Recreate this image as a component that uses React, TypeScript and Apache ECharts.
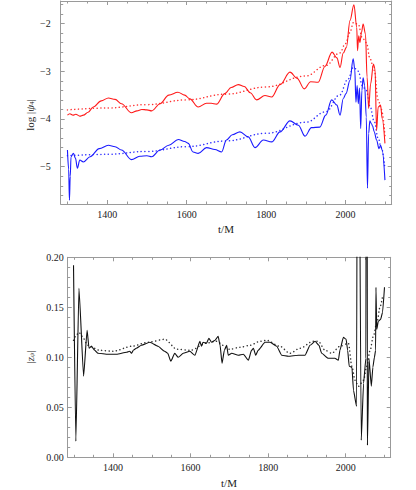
import React, { useEffect, useRef } from "react";
import * as echarts from "echarts";

// ---- data (t/M, value) ----
const redSolid: [number, number][] = [
  [1300, -3.92], [1306, -3.89], [1314, -3.92], [1321, -3.9], [1331, -3.94], [1340, -3.92], [1352, -3.86],
  [1365, -3.75], [1385, -3.62], [1403, -3.56], [1420, -3.59], [1436, -3.68], [1461, -3.87], [1475, -3.83],
  [1487, -3.8], [1500, -3.81], [1512, -3.83], [1533, -3.68], [1555, -3.5], [1578, -3.44], [1595, -3.5],
  [1608, -3.58], [1629, -3.75], [1650, -3.67], [1662, -3.67], [1675, -3.69], [1696, -3.47], [1712, -3.34],
  [1730, -3.28], [1745, -3.32], [1760, -3.45], [1776, -3.6], [1797, -3.51], [1814, -3.54], [1835, -3.28],
  [1860, -3.02], [1878, -3.15], [1896, -3.37], [1912, -3.22], [1931, -3.23], [1948, -2.9], [1966, -2.6],
  [1978, -2.72], [1986, -2.92], [1994, -2.62], [2002, -2.5], [2011, -1.94], [2021, -1.61], [2028, -2.08],
  [2030, -2.57], [2033, -2.26], [2036, -2.4], [2040, -2.19], [2044, -2.01], [2050, -2.22], [2054, -3.12],
  [2058, -3.78], [2063, -3.26], [2070, -2.85], [2074, -2.95], [2078, -4.24], [2082, -3.75], [2088, -3.71],
  [2092, -3.99], [2099, -4.51],
];

const redFit: [number, number][] = [
  [1300, -3.81], [1400, -3.77], [1500, -3.7], [1600, -3.6], [1700, -3.48], [1800, -3.33], [1900, -3.1],
  [1950, -2.88], [1985, -2.62], [2000, -2.42], [2010, -2.2], [2020, -1.98], [2032, -2.02], [2042, -2.3],
  [2052, -2.4], [2062, -2.75], [2072, -2.98], [2082, -3.6], [2090, -3.8], [2099, -4.35],
];

const blueSolid: [number, number][] = [
  [1300, -4.65], [1303, -5.05], [1305, -5.7], [1307, -5.2], [1309, -4.79], [1315, -4.72], [1320, -4.82],
  [1325, -5.03], [1331, -4.86], [1340, -4.9], [1357, -4.79], [1380, -4.62], [1403, -4.55], [1420, -4.58],
  [1436, -4.65], [1461, -4.85], [1482, -4.78], [1500, -4.77], [1512, -4.79], [1533, -4.65], [1555, -4.55],
  [1579, -4.43], [1595, -4.47], [1604, -4.51], [1616, -4.69], [1629, -4.72], [1650, -4.6], [1671, -4.64],
  [1688, -4.69], [1700, -4.44], [1715, -4.33], [1734, -4.27], [1755, -4.375], [1772, -4.6], [1793, -4.44],
  [1814, -4.48], [1835, -4.27], [1860, -4.04], [1881, -4.13], [1898, -4.36], [1914, -4.18], [1935, -4.17],
  [1950, -3.92], [1965, -3.6], [1978, -3.71], [1986, -3.92], [1994, -3.575], [2001, -3.47], [2011, -3.19],
  [2019, -2.74], [2023, -2.95], [2026, -3.65], [2029, -3.3], [2032, -3.68], [2035, -3.35], [2038, -4.2],
  [2041, -3.4], [2044, -3.14], [2048, -3.3], [2052, -3.96], [2055, -5.45], [2058, -4.3], [2061, -4.04],
  [2065, -4.1], [2068, -4.15], [2072, -4.27], [2078, -4.44], [2084, -4.62], [2088, -4.55], [2092, -4.65],
  [2099, -5.28],
];

const blueFit: [number, number][] = [
  [1300, -4.77], [1400, -4.74], [1500, -4.68], [1600, -4.58], [1700, -4.46], [1800, -4.3], [1900, -4.07],
  [1950, -3.85], [1985, -3.5], [2005, -3.18], [2020, -2.92], [2032, -3.0], [2042, -3.3], [2052, -3.4],
  [2062, -3.75], [2072, -4.05], [2082, -4.4], [2090, -4.6], [2099, -5.05],
];

const zSolid: [number, number][] = [
  [1298, 0.192], [1304, 0.016], [1312, 0.169], [1324, 0.081], [1333, 0.127], [1338, 0.109], [1344, 0.111],
  [1353, 0.107], [1361, 0.104], [1387, 0.103], [1409, 0.103], [1435, 0.105], [1443, 0.106], [1448, 0.104],
  [1452, 0.107], [1460, 0.109], [1473, 0.112], [1495, 0.115], [1516, 0.111], [1533, 0.106], [1541, 0.104],
  [1549, 0.096], [1559, 0.104], [1568, 0.1], [1581, 0.104], [1598, 0.106], [1611, 0.102], [1624, 0.116],
  [1628, 0.111], [1632, 0.115], [1641, 0.114], [1647, 0.119], [1654, 0.115], [1663, 0.117], [1671, 0.121],
  [1676, 0.112], [1681, 0.094], [1687, 0.107], [1693, 0.112], [1697, 0.102], [1706, 0.104], [1723, 0.102],
  [1736, 0.103], [1749, 0.097], [1757, 0.107], [1762, 0.109], [1768, 0.102], [1774, 0.107], [1792, 0.115],
  [1805, 0.115], [1822, 0.111], [1835, 0.102], [1852, 0.101], [1878, 0.102], [1895, 0.102], [1908, 0.112],
  [1921, 0.116], [1931, 0.112], [1938, 0.104], [1955, 0.099], [1972, 0.099], [1981, 0.097], [1985, 0.107],
  [1994, 0.12], [2001, 0.118], [2005, 0.107], [2009, 0.091], [2016, 0.09], [2020, 0.067], [2028, 0.051],
  [2031, 0.6], [2040, 0.017], [2046, 0.074], [2052, 0.099], [2054, 0.8], [2056, 0.012], [2060, 0.099],
  [2066, 0.071], [2070, 0.09], [2074, 0.1], [2077, 0.107], [2078, 0.17], [2080, 0.128], [2084, 0.136],
  [2090, 0.138], [2095, 0.145], [2100, 0.17],
];

const zFit: [number, number][] = [
  [1298, 0.117], [1305, 0.122], [1312, 0.125], [1320, 0.121], [1335, 0.112], [1365, 0.107], [1400, 0.106],
  [1448, 0.111], [1490, 0.115], [1533, 0.118], [1565, 0.108], [1600, 0.107], [1640, 0.114], [1665, 0.116],
  [1701, 0.108], [1727, 0.11], [1753, 0.112], [1779, 0.116], [1796, 0.117], [1830, 0.111], [1856, 0.104],
  [1882, 0.109], [1916, 0.116], [1929, 0.116], [1947, 0.107], [1964, 0.104], [1985, 0.111], [2007, 0.114],
  [2016, 0.091], [2024, 0.077], [2033, 0.071], [2046, 0.077], [2054, 0.091], [2063, 0.107], [2071, 0.121],
  [2080, 0.134], [2089, 0.151], [2095, 0.161],
];

// ---- ticks ----
const xMajor = [1400, 1600, 1800, 2000];
const xMinor = [1300, 1350, 1450, 1500, 1550, 1650, 1700, 1750, 1850, 1900, 1950, 2050, 2100];
const topYMajor = [-5, -4, -3, -2];
const topYMinor = [-5.6, -5.4, -5.2, -4.8, -4.6, -4.4, -4.2, -3.8, -3.6, -3.4, -3.2, -2.8, -2.6, -2.4, -2.2, -1.8, -1.6];
const botYMajor = [0, 0.05, 0.1, 0.15, 0.2];
const botYMinor = [0.01, 0.02, 0.03, 0.04, 0.06, 0.07, 0.08, 0.09, 0.11, 0.12, 0.13, 0.14, 0.16, 0.17, 0.18, 0.19];

const FONT = "Liberation Serif";
const FRAME = "#9a9a9a";
const TXT = "#222";

function xAx(grid: number, pos: string, ticks: number[], len: number, line: boolean, labels: number[] | null, min: number, max: number) {
  return {
    type: "value",
    gridIndex: grid,
    position: pos,
    min,
    max,
    axisLine: { show: line, onZero: false, lineStyle: { color: FRAME, width: 1 } },
    axisTick: { show: true, inside: true, length: len, customValues: ticks, lineStyle: { color: FRAME, width: 1 } },
    axisLabel: labels
      ? { show: true, customValues: labels, margin: 5, color: TXT, fontFamily: FONT, fontSize: 10, formatter: (v: number) => String(v) }
      : { show: false },
    splitLine: { show: false },
  };
}

function yAx(grid: number, pos: string, ticks: number[], len: number, line: boolean, labels: number[] | null, min: number, max: number, fmt: (v: number) => string, margin: number) {
  return {
    type: "value",
    gridIndex: grid,
    position: pos,
    min,
    max,
    axisLine: { show: line, onZero: false, lineStyle: { color: FRAME, width: 1 } },
    axisTick: { show: true, inside: true, length: len, customValues: ticks, lineStyle: { color: FRAME, width: 1 } },
    axisLabel: labels
      ? { show: true, customValues: labels, margin, color: TXT, fontFamily: FONT, fontSize: 10, formatter: fmt }
      : { show: false },
    splitLine: { show: false },
  };
}

const minusFmt = (v: number) => (v < 0 ? "\u2212" + Math.abs(v) : String(v));
const decFmt = (v: number) => v.toFixed(2);

export default function App() {
  const ref = useRef<HTMLDivElement>(null);
  useEffect(() => {
    if (!ref.current) return;
    const chart = echarts.init(ref.current, null, { renderer: "svg" });
    const XMIN = 1283;
    const XMAX = 2116;
    const TYMIN = -5.78;
    const TYMAX = -1.53;
    const line = (name: string, data: [number, number][], color: string, dotted: boolean, xi: number, yi: number, smooth: number, width: number) => ({
      name,
      type: "line",
      xAxisIndex: xi,
      yAxisIndex: yi,
      data,
      showSymbol: false,
      smooth,
      smoothMonotone: "x",
      clip: true,
      silent: true,
      lineStyle: dotted ? { color, width: 1.5, type: [0.1, 3.6], cap: "round" } : { color, width },
    });
    chart.setOption({
      animation: false,
      backgroundColor: "#fff",
      grid: [
        { left: 60.7, top: 1, width: 331, height: 203 },
        { left: 67.7, top: 257.3, width: 323, height: 200 },
      ],
      xAxis: [
        xAx(0, "bottom", xMajor, 4, true, xMajor, XMIN, XMAX),
        xAx(0, "bottom", xMinor, 2.5, false, null, XMIN, XMAX),
        xAx(0, "top", xMajor, 4, true, null, XMIN, XMAX),
        xAx(0, "top", xMinor, 2.5, false, null, XMIN, XMAX),
        xAx(1, "bottom", xMajor, 4, true, xMajor, XMIN, XMAX),
        xAx(1, "bottom", xMinor, 2.5, false, null, XMIN, XMAX),
        xAx(1, "top", xMajor, 4, true, null, XMIN, XMAX),
        xAx(1, "top", xMinor, 2.5, false, null, XMIN, XMAX),
      ],
      yAxis: [
        yAx(0, "left", topYMajor, 4, true, topYMajor, TYMIN, TYMAX, minusFmt, 10),
        yAx(0, "left", topYMinor, 2.5, false, null, TYMIN, TYMAX, minusFmt, 10),
        yAx(0, "right", topYMajor, 4, true, null, TYMIN, TYMAX, minusFmt, 10),
        yAx(0, "right", topYMinor, 2.5, false, null, TYMIN, TYMAX, minusFmt, 10),
        yAx(1, "left", botYMajor, 4, true, botYMajor, 0, 0.2, decFmt, 4),
        yAx(1, "left", botYMinor, 2.5, false, null, 0, 0.2, decFmt, 4),
        yAx(1, "right", botYMajor, 4, true, null, 0, 0.2, decFmt, 4),
        yAx(1, "right", botYMinor, 2.5, false, null, 0, 0.2, decFmt, 4),
      ],
      series: [
        line("red fit", redFit, "#ff3030", true, 0, 0, 0.4, 1),
        line("blue fit", blueFit, "#3030ff", true, 0, 0, 0.4, 1),
        line("red", redSolid, "#ff1a1a", false, 0, 0, 0.35, 1.1),
        line("blue", blueSolid, "#1a1aff", false, 0, 0, 0.35, 1.1),
        line("z fit", zFit, "#333", true, 4, 4, 0.3, 1),
        line("z", zSolid, "#111", false, 4, 4, 0.15, 1.1),
      ],
      graphic: [
        {
          type: "text",
          x: 226,
          y: 229,
          style: { text: "t/M", align: "center", verticalAlign: "middle", font: `11px '${FONT}'`, fill: TXT },
        },
        {
          type: "text",
          x: 229,
          y: 483,
          style: { text: "t/M", align: "center", verticalAlign: "middle", font: `11px '${FONT}'`, fill: TXT },
        },
        {
          type: "text",
          x: 30,
          y: 115,
          rotation: Math.PI / 2,
          style: {
            text: "log |{i|ψ}{s|4}|",
            align: "center",
            verticalAlign: "middle",
            fontFamily: FONT,
            fontSize: 11,
            fill: TXT,
            rich: {
              i: { fontFamily: FONT, fontSize: 11, fontStyle: "italic", fill: TXT },
              s: { fontFamily: FONT, fontSize: 7, fill: TXT, verticalAlign: "bottom", padding: [4, 0, 0, 0] },
            },
          },
        },
        {
          type: "text",
          x: 30,
          y: 357,
          rotation: Math.PI / 2,
          style: {
            text: "|{i|z}{s|ψ}|",
            align: "center",
            verticalAlign: "middle",
            fontFamily: FONT,
            fontSize: 11,
            fill: TXT,
            rich: {
              i: { fontFamily: FONT, fontSize: 11, fontStyle: "italic", fill: TXT },
              s: { fontFamily: FONT, fontSize: 7, fontStyle: "italic", fill: TXT, verticalAlign: "bottom", padding: [4, 0, 0, 0] },
            },
          },
        },
      ],
    });
    return () => chart.dispose();
  }, []);
  return <div ref={ref} style={{ position: "fixed", left: 0, top: 0, width: 416, height: 490 }} />;
}
